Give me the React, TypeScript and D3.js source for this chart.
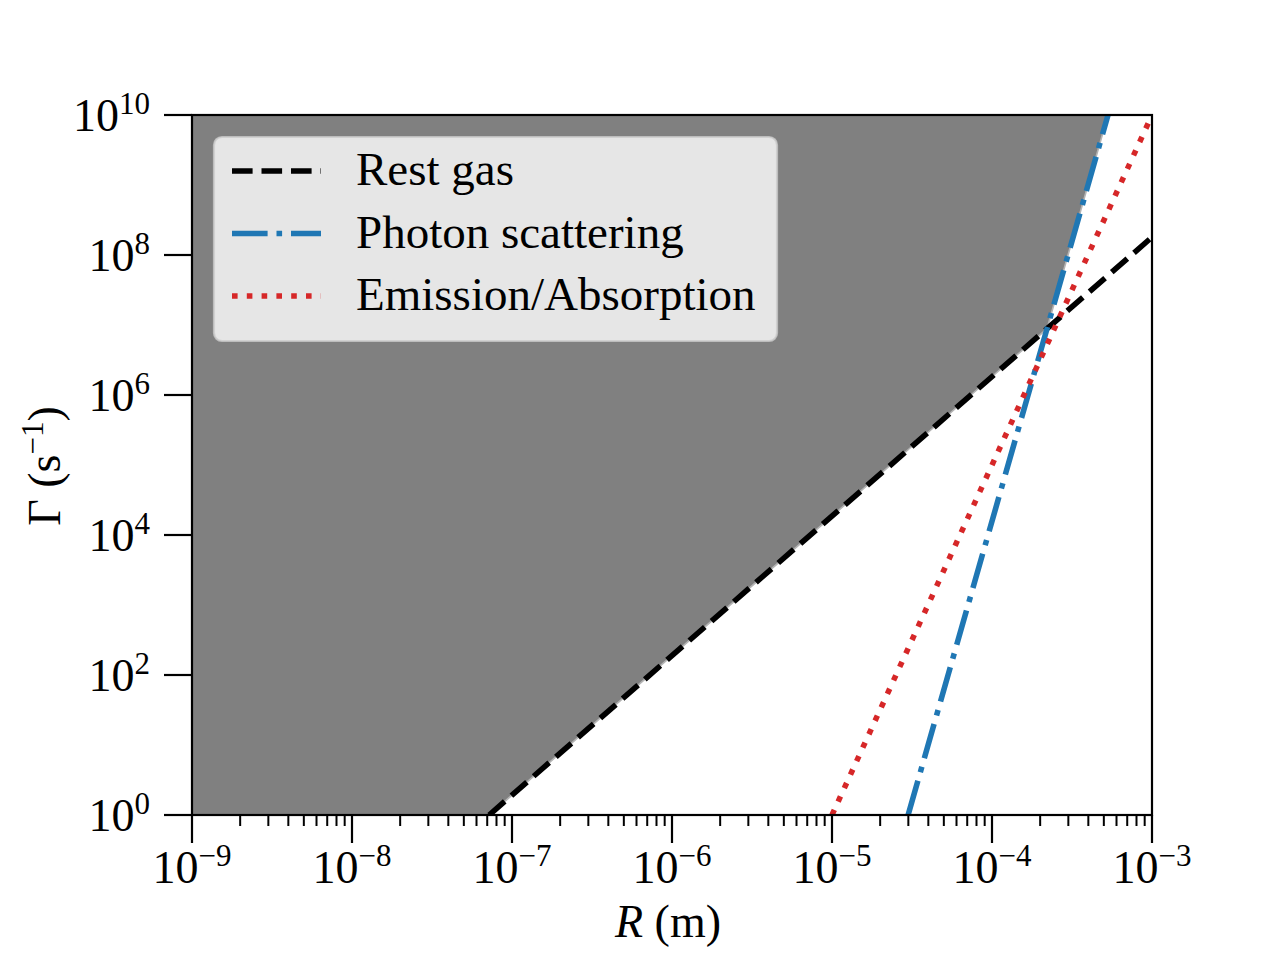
import React, { useMemo } from 'react';
import * as d3 from 'd3';

// End points (R in m, Gamma in 1/s) of each straight log-log line
const restGasR = [7.2e-8, 1e-3];
const restGasGamma = [1, 1.8e8];
const photonR = [2.99e-5, 5.31e-4];
const photonGamma = [1, 1e10];
const emissionR = [1e-5, 1e-3];
const emissionGamma = [1, 1e10];

const seriesNames = ['Rest gas', 'Photon scattering', 'Emission/Absorption'];

const xDomain = [1e-9, 1e-3];
const yDomain = [1, 1e10];
const xTickExponents = [-9, -8, -7, -6, -5, -4, -3];
const yTickExponents = [0, 2, 4, 6, 8, 10];

const WIDTH = 1280;
const HEIGHT = 960;
const margin = { top: 115, right: 128, bottom: 145, left: 192 };
const FONT = '"Liberation Serif", "DejaVu Serif", serif';
const LW = 5.56;

const styles = [
  { color: '#000000', dash: '20.6 8.9' },
  { color: '#1f77b4', dash: '35.6 8.9 5.6 8.9' },
  { color: '#d62728', dash: '5.6 9.2' },
];

interface Pt {
  r: number;
  g: number;
}

const App: React.FC = () => {
  const innerW = WIDTH - margin.left - margin.right;
  const innerH = HEIGHT - margin.top - margin.bottom;

  const xScale = d3.scaleLog().domain(xDomain).range([margin.left, margin.left + innerW]);
  const yScale = d3.scaleLog().domain(yDomain).range([margin.top + innerH, margin.top]);

  const series = useMemo(() => {
    const raw = [
      [restGasR, restGasGamma],
      [photonR, photonGamma],
      [emissionR, emissionGamma],
    ];
    return raw.map(([rs, gs], i) => ({
      name: seriesNames[i],
      points: rs.map((r, j) => ({ r, g: gs[j] })) as Pt[],
    }));
  }, []);

  // Excluded region: everything above the largest of the three rates
  const fillPath = useMemo(() => {
    const lines = series.map(s => {
      const [a, b] = s.points;
      const L0 = Math.log10(a.r);
      const L1 = Math.log10(b.r);
      const slope = (Math.log10(b.g) - Math.log10(a.g)) / (L1 - L0);
      return { slope, icpt: Math.log10(a.g) - slope * L0 };
    });
    const Lmin = Math.log10(xDomain[0]);
    const Lmax = Math.log10(xDomain[1]);
    const Gmin = Math.log10(yDomain[0]);
    const Gmax = Math.log10(yDomain[1]);
    const cand: number[] = [Lmin, Lmax];
    lines.forEach((l, i) => {
      cand.push((Gmin - l.icpt) / l.slope, (Gmax - l.icpt) / l.slope);
      lines.forEach((m, j) => {
        if (j > i && l.slope !== m.slope) cand.push((m.icpt - l.icpt) / (l.slope - m.slope));
      });
    });
    const Ls = Array.from(new Set(cand.filter(L => L >= Lmin && L <= Lmax))).sort((a, b) => a - b);
    const f = (L: number) =>
      Math.min(Gmax, Math.max(Gmin, d3.max(lines, l => l.icpt + l.slope * L) as number));
    const area = d3
      .area<number>()
      .x(L => xScale(Math.pow(10, L)))
      .y0(() => yScale(yDomain[1]))
      .y1(L => yScale(Math.pow(10, f(L))));
    return area(Ls) || '';
  }, [series]);

  const line = d3
    .line<Pt>()
    .x(d => xScale(d.r))
    .y(d => yScale(d.g));

  const minorTicks = xScale.ticks().filter(t => {
    const e = Math.log10(t);
    return Math.abs(e - Math.round(e)) > 1e-6;
  });

  const x0 = margin.left;
  const x1 = margin.left + innerW;
  const y0 = margin.top;
  const y1 = margin.top + innerH;

  return (
    <div style={{ position: 'absolute', left: 0, top: 0 }}>
      <svg width={WIDTH} height={HEIGHT} style={{ display: 'block', background: '#fff' }} fontFamily={FONT}>
        <defs>
          <clipPath id="plot-clip">
            <rect x={x0} y={y0} width={innerW} height={innerH} />
          </clipPath>
        </defs>

        <g clipPath="url(#plot-clip)">
          <path d={fillPath} fill="#808080" stroke="#b4b4b4" strokeWidth={1.6} />
          {series.map((s, i) => (
            <path
              key={s.name}
              d={line(s.points) || ''}
              fill="none"
              stroke={styles[i].color}
              strokeWidth={LW}
              strokeDasharray={styles[i].dash}
            />
          ))}
        </g>

        {/* spines */}
        <rect x={x0} y={y0} width={x1 - x0} height={innerH} fill="none" stroke="#000" strokeWidth={2.2} />

        {/* x ticks */}
        {minorTicks.map(t => (
          <line key={`mx${t}`} x1={xScale(t)} x2={xScale(t)} y1={y1} y2={y1 + 11} stroke="#000" strokeWidth={2} />
        ))}
        {xTickExponents.map(e => {
          const x = xScale(Math.pow(10, e));
          return (
            <g key={`x${e}`}>
              <line x1={x} x2={x} y1={y1} y2={y1 + 28} stroke="#000" strokeWidth={2.2} />
              <text x={x} y={883} textAnchor="middle" fontSize={46} fill="#000">
                10
                <tspan fontSize={31} dy={-17}>
                  {`\u2212${Math.abs(e)}`}
                </tspan>
              </text>
            </g>
          );
        })}

        {/* y ticks */}
        {yTickExponents.map(e => {
          const y = yScale(Math.pow(10, e));
          return (
            <g key={`y${e}`}>
              <line x1={x0 - 28} x2={x0} y1={y} y2={y} stroke="#000" strokeWidth={2.2} />
              <text x={150} y={y + 16} textAnchor="end" fontSize={46} fill="#000">
                10
                <tspan fontSize={31} dy={-17}>
                  {e}
                </tspan>
              </text>
            </g>
          );
        })}

        {/* axis labels */}
        <text x={668} y={937} textAnchor="middle" fontSize={46} fill="#000">
          <tspan fontStyle="italic">R</tspan> (m)
        </text>
        <text
          transform="translate(60,466) rotate(-90)"
          textAnchor="middle"
          fontSize={46}
          fill="#000"
        >
          Γ (s
          <tspan fontSize={31} dy={-17}>
            {'\u22121'}
          </tspan>
          <tspan dy={17}>)</tspan>
        </text>

        {/* legend */}
        <g>
          <rect
            x={214}
            y={137}
            width={563}
            height={204}
            rx={8}
            fill="#fff"
            fillOpacity={0.8}
            stroke="#cccccc"
            strokeOpacity={0.8}
            strokeWidth={2.2}
          />
          {series.map((s, i) => {
            const ry = 171 + i * 62.5;
            return (
              <g key={`lg${s.name}`}>
                <line
                  x1={232}
                  x2={321}
                  y1={ry}
                  y2={ry}
                  stroke={styles[i].color}
                  strokeWidth={LW}
                  strokeDasharray={styles[i].dash}
                />
                <text x={356} y={ry + 14} fontSize={47} fill="#000">
                  {s.name}
                </text>
              </g>
            );
          })}
        </g>
      </svg>
    </div>
  );
};

export default App;
